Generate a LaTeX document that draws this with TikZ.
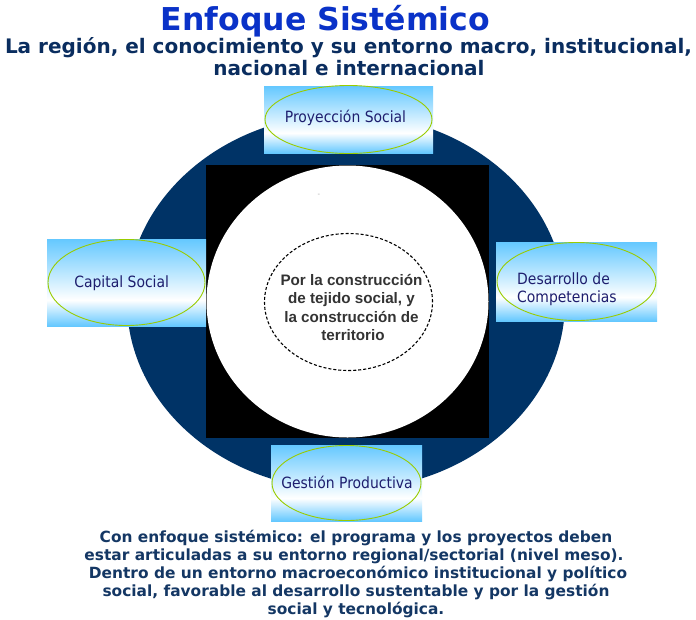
\documentclass[tikz,border=0pt]{standalone}
\usepackage{fontspec}
\setmainfont{DejaVu Sans}
\newfontfamily\tah{DejaVu Sans Condensed}
\newfontfamily\ari{Liberation Sans}
\usetikzlibrary{shapes.geometric}
\definecolor{navy}{RGB}{0,51,102}
\definecolor{titleblue}{RGB}{10,50,200}
\definecolor{subnavy}{RGB}{10,45,95}
\definecolor{labelnavy}{RGB}{30,30,110}
\definecolor{skyb}{RGB}{100,200,255}
\definecolor{lgreen}{RGB}{153,204,0}
\definecolor{txtgray}{RGB}{51,51,51}
\definecolor{botnavy}{RGB}{20,55,100}
\definecolor{dashgray}{RGB}{170,170,170}
\pgfdeclareverticalshading{boxshade}{100bp}{color(0bp)=(skyb); color(25bp)=(skyb); color(40bp)=(white); color(75bp)=(skyb); color(100bp)=(skyb)}
\begin{document}
\begin{tikzpicture}[x=1pt,y=-1pt,
  boxbg/.style={rectangle, inner sep=0pt, shade, shading=boxshade, draw=none},
  ring/.style={ellipse, draw=lgreen, line width=0.9pt, inner sep=0pt},
  lbl/.style={font=\tah\fontsize{15.5}{18}\selectfont, text=labelnavy, inner sep=0pt},
  ctext/.style={font=\ari\bfseries\fontsize{15.2}{18}\selectfont, text=txtgray, inner sep=0pt, anchor=base},
  btext/.style={font=\bfseries\fontsize{15.4}{18}\selectfont, text=botnavy, inner sep=0pt, anchor=base},
  stext/.style={font=\bfseries\fontsize{20}{23}\selectfont, text=subnavy, inner sep=0pt, anchor=base},
]
\useasboundingbox (0,0) rectangle (696,619);
\fill[white] (0,0) rectangle (696,619);

% titles
\node[font=\bfseries\fontsize{31.5}{36}\selectfont, text=titleblue, inner sep=0pt, anchor=base] (title) at (325.5,30) {Enfoque Sistémico};
\node[stext] (sub1) at (348.5,53) {La región, el conocimiento y su entorno macro, institucional,};
\node[stext] (sub2) at (349,75) {nacional e internacional};

% central figure
\node[ellipse, fill=navy, minimum width=438pt, minimum height=376pt, inner sep=0pt] (outer) at (346,302) {};
\node[rectangle, fill=black, minimum width=283pt, minimum height=273pt, inner sep=0pt] (sq) at (347.5,301.5) {};
\node[ellipse, fill=white, minimum width=282pt, minimum height=272pt, inner sep=0pt] (inner) at (347.5,301.5) {};
\node[ellipse, draw=black, dash pattern=on 3pt off 2pt, line width=1.1pt, minimum width=168pt, minimum height=137pt, inner sep=0pt] (core) at (348.5,302) {};
\node[font=\fontsize{7}{8}\selectfont, text=dashgray, inner sep=0pt] (dash) at (319,195) {-};

\node[ctext] (c1) at (351.5,285) {Por la construcción};
\node[ctext] (c2) at (351.5,303.5) {de tejido social, y};
\node[ctext] (c3) at (351.5,322) {la construcción de};
\node[ctext] (c4) at (353,340.5) {territorio};

% boxes
\node[boxbg, minimum width=169pt, minimum height=67pt] (topbox) at (348.5,119.5) {};
\node[ring, minimum width=167pt, minimum height=68pt] (topring) at (topbox.center) {};
\node[lbl, anchor=base] (toplbl) at (345.5,122.3) {Proyección Social};

\node[boxbg, minimum width=159pt, minimum height=87pt] (leftbox) at (126.5,282.5) {};
\node[ring, minimum width=157pt, minimum height=86pt] (leftring) at (leftbox.center) {};
\node[lbl, anchor=base] (leftlbl) at (121.7,287.3) {Capital Social};

\node[boxbg, minimum width=161pt, minimum height=79pt] (rightbox) at (576.5,281.5) {};
\node[ring, minimum width=159pt, minimum height=78pt] (rightring) at (rightbox.center) {};
\node[lbl, anchor=base west] (rightlbla) at (517,284) {Desarrollo de};
\node[lbl, anchor=base west] (rightlblb) at (517,302) {Competencias};

\node[boxbg, minimum width=151pt, minimum height=76pt] (botbox) at (346.5,483) {};
\node[ring, minimum width=149pt, minimum height=75pt] (botring) at (botbox.center) {};
\node[lbl, anchor=base] (botlbl) at (347,488.3) {Gestión Productiva};

% bottom paragraph
\node[btext] (b1) at (356,542) {Con enfoque sistémico: el programa y los proyectos deben};
\node[btext] (b2) at (354,560) {estar articuladas a su entorno regional/sectorial (nivel meso).};
\node[btext] (b3) at (358,578) {Dentro de un entorno macroeconómico institucional y político};
\node[btext] (b4) at (356,596) {social, favorable al desarrollo sustentable y por la gestión};
\node[btext] (b5) at (356,614) {social y tecnológica.};
\end{tikzpicture}
\end{document}
